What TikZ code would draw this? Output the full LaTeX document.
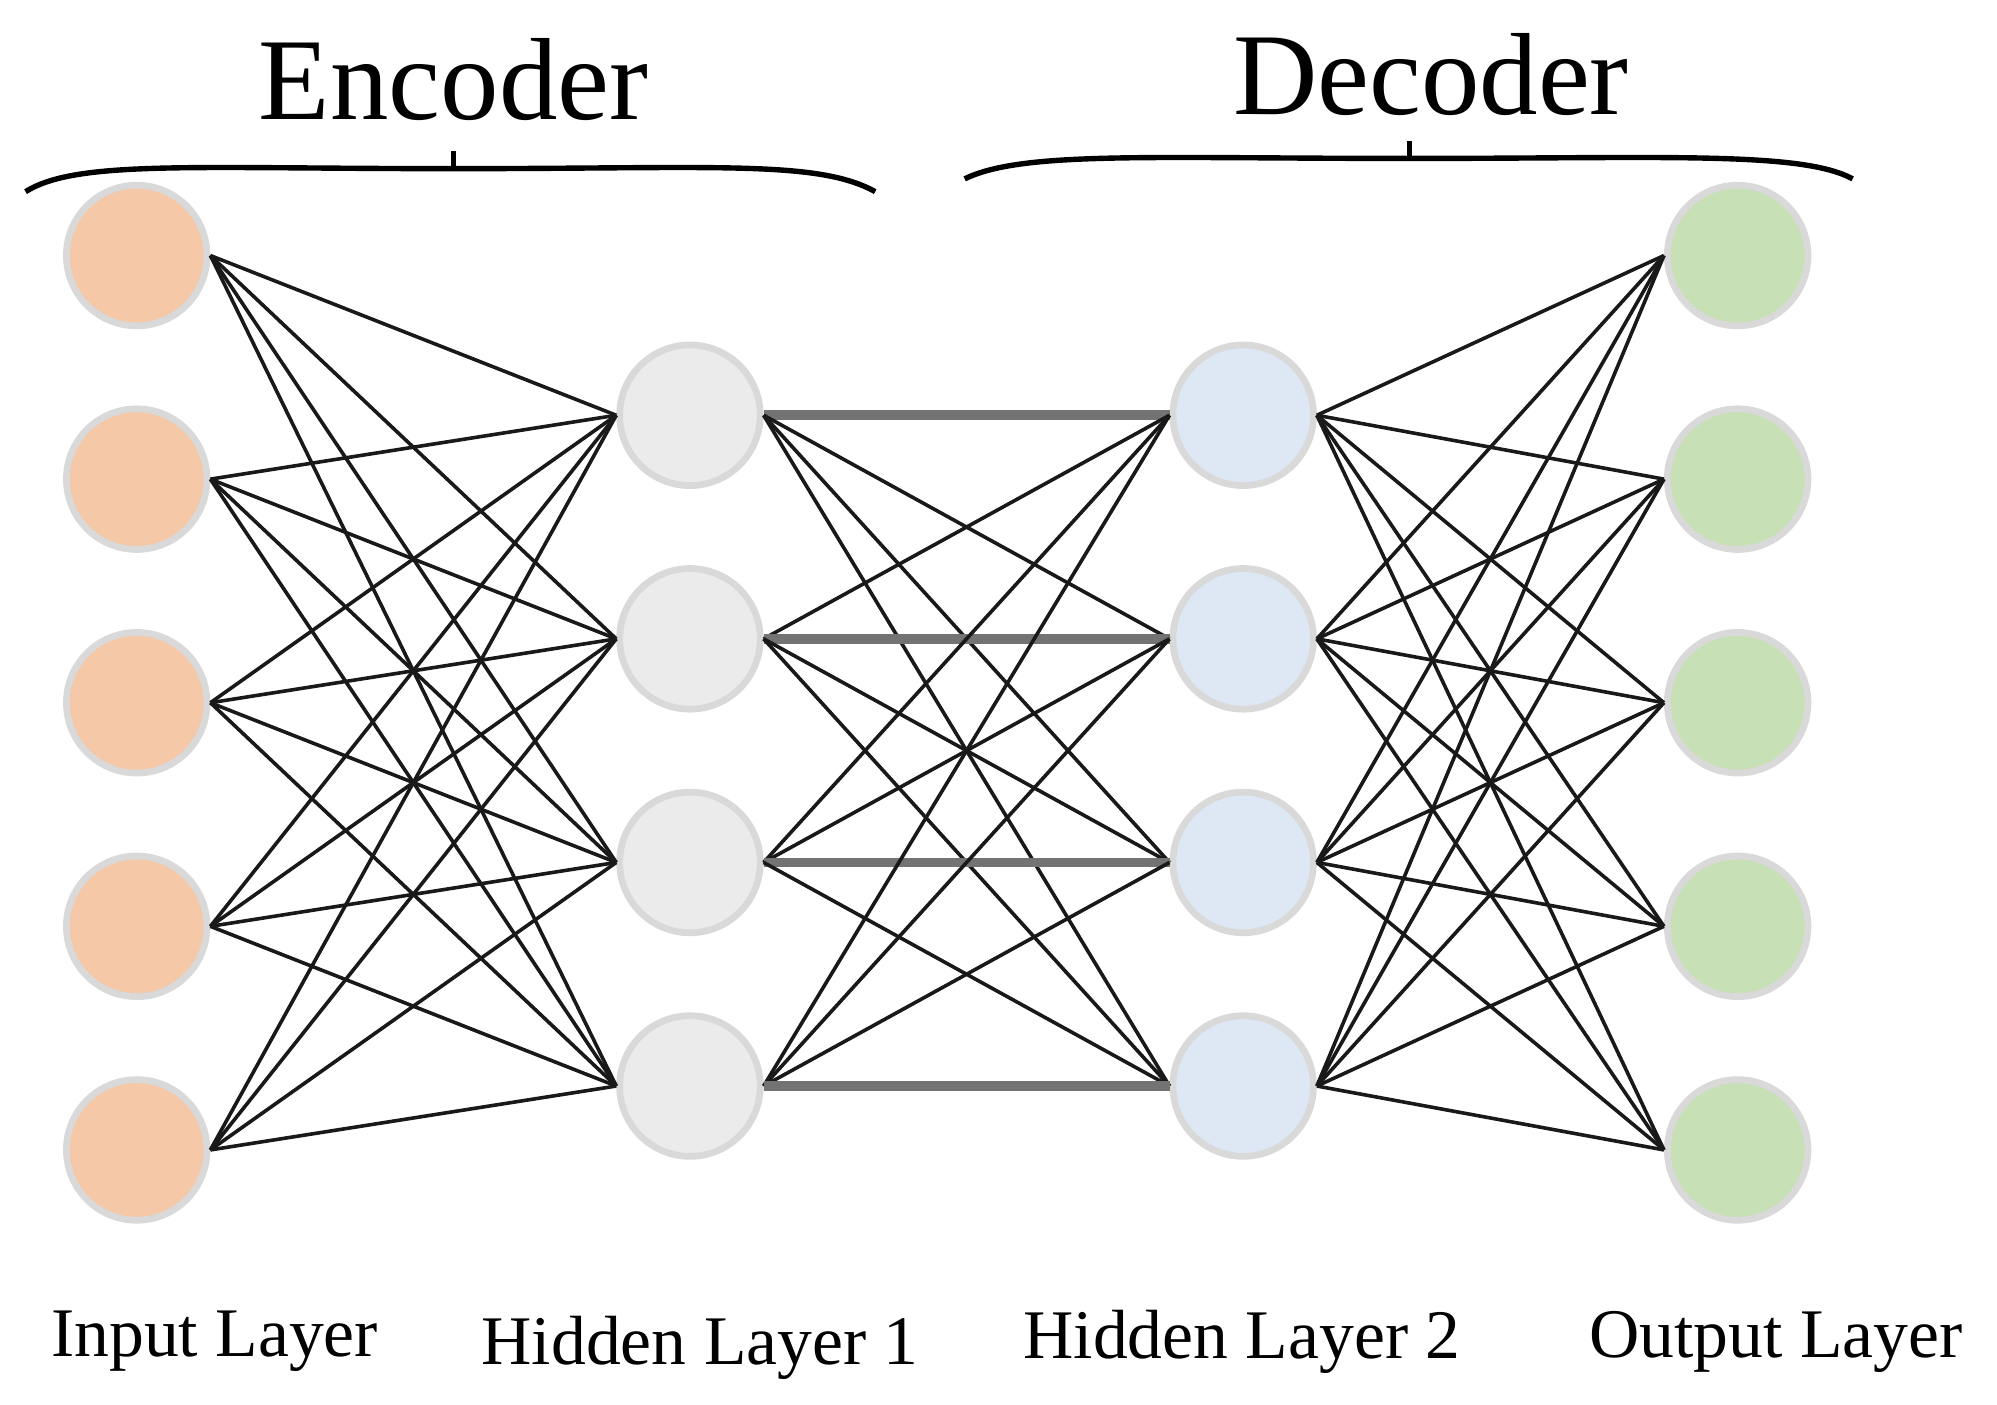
\documentclass[tikz,border=0pt]{standalone}
\usepackage{fontspec}
\setmainfont{Liberation Serif}
\begin{document}
\begin{tikzpicture}[x=0.01cm,y=-0.01cm,
  neu/.style={circle,minimum size=1.1cm,inner sep=0pt,draw=black!15,line width=1.5pt},
  ed/.style={black!90,line width=0.8pt},
  hed/.style={black!55,line width=2.2pt},
  lab/.style={font=\fontsize{15.5}{17}\selectfont},
  ttl/.style={font=\fontsize{26}{28}\selectfont}]
\useasboundingbox (0,0) rectangle (1563,1099);
\definecolor{cin}{HTML}{F5C8A8}\definecolor{chid}{HTML}{EBEBEB}
\definecolor{cdec}{HTML}{DDE8F4}\definecolor{cout}{HTML}{C8E0B6}
\foreach \i/\y in {1/200,2/375,3/550,4/725,5/900}{
  \node[neu,fill=cin] (i\i) at (107,\y) {};
  \node[neu,fill=cout] (o\i) at (1360,\y) {};}
\foreach \i/\y in {1/325,2/500,3/675,4/850}{
  \node[neu,fill=chid] (a\i) at (540,\y) {};
  \node[neu,fill=cdec] (b\i) at (973,\y) {};}
\foreach \i in {1,...,5}\foreach \j in {1,...,4}{
  \draw[ed] (i\i.east) -- (a\j.west);
  \draw[ed] (b\j.east) -- (o\i.west);}
\foreach \i in {1,...,4}\foreach \j in {1,...,4}{
  \ifnum\i=\j \draw[hed] (a\i.east) -- (b\j.west);
  \else \draw[ed] (a\i.east) -- (b\j.west);\fi}
\node[lab] (l1) at (168,1050) {Input Layer};
\node[lab] (l2) at (548,1055) {Hidden Layer 1};
\node[lab] (l3) at (972,1050) {Hidden Layer 2};
\node[lab] (l4) at (1390,1050) {Output Layer};
\node[ttl] (enc) at (355,62) {Encoder};
\node[ttl] (dec) at (1120,58) {Decoder};
\draw[line width=1.2pt] (20,150) .. controls (60,125) and (150,132) .. (355,132)
  .. controls (560,132) and (640,125) .. (685,150);
\draw[line width=1.2pt] (355,132) -- (355,118);
\draw[line width=1.2pt] (755,140) .. controls (800,118) and (900,124) .. (1103,124)
  .. controls (1300,124) and (1410,118) .. (1450,140);
\draw[line width=1.2pt] (1103,124) -- (1103,110);
\end{tikzpicture}
\end{document}
